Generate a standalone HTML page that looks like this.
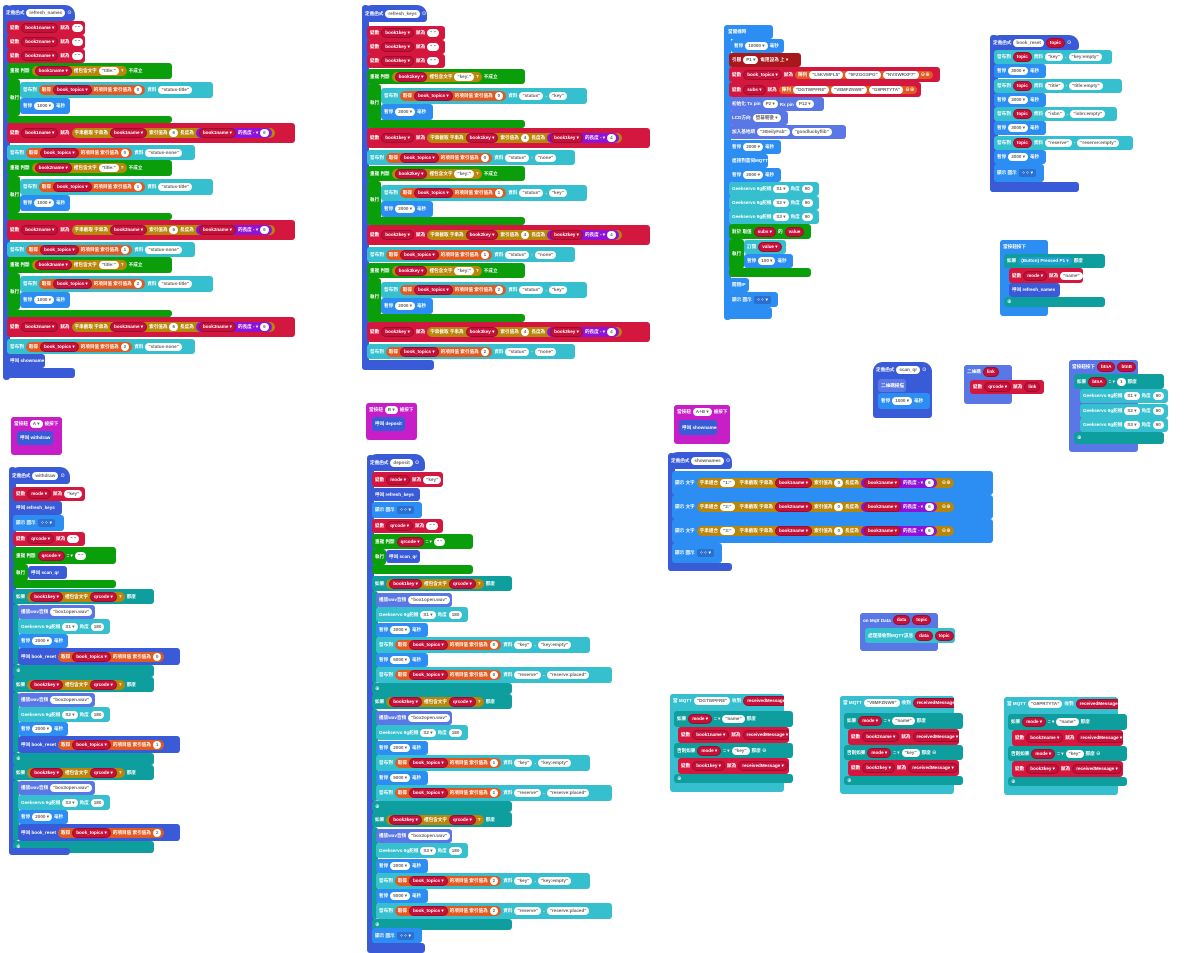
<!DOCTYPE html>
<html><head><meta charset="utf-8">
<style>
html,body{margin:0;padding:0;background:#fff;width:1200px;height:953px;overflow:hidden;position:relative}
.b{position:absolute;box-sizing:border-box;border-radius:3px;color:#fff;font:700 4.6px "Liberation Sans","Noto Sans CJK TC",sans-serif;display:flex;align-items:center;gap:2px;padding:0 3px;white-space:nowrap;overflow:hidden}
.b i{font-style:normal;display:inline-flex;align-items:center;gap:2px;border-radius:6px;padding:0 3px;line-height:8px;flex:none}
.w{background:#fff;color:#666}
.v{background:#c5103a;color:#fff;border:1px solid #9e0c2c}
.g{background:#b8860b;line-height:10px!important}
.p{background:#8f12d8}
.o{background:#e05a21}
.t{background:#1a9fd0}
.ic{background:#2b6fd0!important;border-radius:2px!important;padding:0 3px!important}
.hat{border-radius:10px 10px 3px 3px}
</style></head><body>
<script>
const C={fn:'#3a5bd8',red:'#d3173f',grn:'#0a9f0a',tl:'#36c0cf',dt:'#0e9e9e',org:'#e05a21',gld:'#b8860b',pur:'#8f12d8',blu:'#2c8df2',lav:'#5a77e6',mag:'#c81ec8',drd:'#a8171c'};
let H='';
function R(x,y,w,h,c,l,cls){H+=`<div class="b ${cls||''}" style="left:${x}px;top:${y}px;width:${w}px;height:${h}px;background:${c}">${l||''}</div>`;}
const w=t=>`<i class=w>${t}</i>`,v=t=>`<i class=v>${t} ▾</i>`,vr=t=>`<i class=v>${t}</i>`,g=t=>`<i class=g>${t}</i>`,p=t=>`<i class=p>${t}</i>`,o=t=>`<i class=o>${t}</i>`,ic=`<i class=ic>⁘⁘ ▾</i>`;
const pause=t=>'暫停 '+w(t+' ▾')+' 毫秒';
const sub=(n,k)=>`變數 ${v(n)} 賦為 ${g('字串截取 字串為 '+v(n)+' 索引值為 '+w(k)+' 長度為 '+p(v(n)+' 的長度 - ▾ '+w(k)))}`;

(function(){const X=7;R(3,5,7,375,C.fn);R(3,5,72,16,C.fn,'定義函式 '+w('refresh_names')+' ⊙','hat');
let y=21;for(let i=1;i<=3;i++){R(X,y,78,14,C.red,`變數 ${v('book'+i+'name')} 賦為 ${w('" "')}`);y+=14;}
for(let k=0;k<3;k++){const n='book'+(k+1)+'name';
R(X,y,165,16,C.grn,`重複 判斷 ${g(v(n)+' 裡包含文字 '+w('"title:"')+' ?')} 不成立`);
R(X,y+16,13,37,C.grn,'執行');R(X+13,y+19,193,16,C.tl,`發布到 ${o('取得 '+v('book_topics')+' 的項目值 索引值為 '+w(k))} 資料 ${w('"status-title"')}`);
R(X+13,y+35,50,16,C.blu,pause(1000));R(X,y+53,165,7,C.grn);y+=60;
R(X,y,288,20,C.red,sub(n,6));y+=22;R(X,y,188,15,C.tl,`發布到 ${o('取得 '+v('book_topics')+' 的項目值 索引值為 '+w(k))} 資料 ${w('"status-none"')}`);y+=15;}
R(X,y,38,14,C.fn,'呼叫 showname');y+=14;R(3,y,72,10,C.fn);})();

(function(){const X=367;R(362,5,7,365,C.fn);R(362,5,65,17,C.fn,'定義函式 '+w('refresh_keys')+' ⊙','hat');
let y=26;for(let i=1;i<=3;i++){R(X,y,78,14,C.red,`變數 ${v('book'+i+'key')} 賦為 ${w('" "')}`);y+=14;}
y=69;for(let k=0;k<3;k++){const n='book'+(k+1)+'key';
R(X,y,158,15,C.grn,`重複 判斷 ${g(v(n)+' 裡包含文字 '+w('"key:"')+' ?')} 不成立`);
R(X,y+15,14,38,C.grn,'執行');R(X+14,y+19,206,16,C.tl,`發布到 ${o('取得 '+v('book_topics')+' 的項目值 索引值為 '+w(k))} 資料 ${w('"status"')} - ${w('"key"')}`);
R(X+14,y+35,52,16,C.blu,pause(2000));R(X,y+51,158,8,C.grn);
R(X,y+59,283,20,C.red,sub(n,4));R(X,y+81,208,15,C.tl,`發布到 ${o('取得 '+v('book_topics')+' 的項目值 索引值為 '+w(k))} 資料 ${w('"status"')} - ${w('"none"')}`);y+=97;}
R(362,360,72,10,C.fn);})();

R(724,25,7,295,C.blu);R(725,25,48,14,C.blu,'當開機時');
R(731,39,53,14,C.blu,pause(10000));
R(729,53,72,14,C.drd,'引腳 '+w('P1 ▾')+' 電阻設為 上 ▾');
R(729,67,211,15,C.red,`變數 ${v('book_topics')} 賦為 ${o('陣列 '+w('"L5KVMFL5"')+w('"9FZGGSPG"')+w('"NVSWRXF7"')+' ⊖⊕')}`);
R(729,82,192,15,C.red,`變數 ${v('subs')} 賦為 ${o('陣列 '+w('"DGTWPFR8"')+w('"V8MFZNW9"')+w('"G9PRTYTA"')+' ⊖⊕')}`);
R(729,97,95,14,C.lav,'初始化 Tx pin '+w('P2 ▾')+' Rx pin '+w('P12 ▾'));
R(729,111,59,14,C.lav,'LCD方向 '+w('螢幕朝後 ▾'));
R(729,125,117,14,C.lav,'加入基地網 '+w('"30IeilyFab"')+' '+w('"goodluckyflib"'));
R(729,140,52,14,C.blu,pause(2000));
R(729,154,39,14,C.blu,'連接到雲伺MQTT');
R(729,168,52,14,C.blu,pause(2000));
for(let i=0;i<3;i++)R(729,182+i*14,90,14,C.tl,'Geekservo 9g舵機 '+w('S'+(i+1)+' ▾')+' 角度 '+w('90'));
R(729,224,82,15,C.grn,'對於 取值 '+v('subs')+' 的 '+vr('value'));R(729,239,15,30,C.grn,'執行');
R(744,240,42,14,C.tl,'訂閱 '+v('value'));R(744,254,49,14,C.blu,pause(100));R(729,268,82,9,C.grn);
R(729,278,20,14,C.blu,'關閉IP');R(729,292,49,15,C.blu,'顯示 圖示 '+ic);R(724,307,48,12,C.blu);

R(990,35,8,157,C.fn);R(990,35,89,15,C.fn,'定義函式 '+w('book_reset')+' '+vr('topic')+' ⊙','hat');
[['key','key:empty',118],['title','title:empty',128],['isbn','isbn:empty',123],['reserve','reserve:empty',139]].forEach((a,i)=>{const y=50+i*28.5;
R(994,y,a[2],14,C.tl,'發布到 '+vr('topic')+' 資料 '+w('"'+a[0]+'"')+' - '+w('"'+a[1]+'"'));R(994,y+14,52,14,C.blu,pause(3000));});
R(994,164,50,18,C.blu,'顯示 圖示 '+ic);R(990,182,89,10,C.fn);

R(1000,240,48,76,C.blu);R(1000,240,48,14,C.blu,'當按鈕按下');
R(1004,254,101,14,C.dt,'如果 <i class=t>(Button) Pressed P1 ▾</i> 那麼');
R(1009,268,74,15,C.red,'變數 '+v('mode')+' 賦為 '+w('"name"'));R(1009,283,51,14,C.fn,'呼叫 refresh_names');R(1004,297,101,10,C.dt,'⊕');

R(873,362,59,56,C.fn,'','hat');R(873,362,59,16,C.fn,'定義函式 '+w('scan_qr')+' ⊙','hat');
R(878,379,28,13,C.lav,'二維碼掃描');R(878,393,52,16,C.blu,pause(1000));
R(964,365,48,39,C.lav);R(964,365,48,14,C.lav,'二維碼 '+vr('link'));R(970,380,74,14,C.red,'變數 '+v('qrcode')+' 賦為 '+vr('link'));
R(1069,360,69,92,C.lav);R(1069,360,69,14,C.lav,'當按鈕按下 '+vr('btnA')+' '+vr('btnB'));
R(1074,374,90,15,C.dt,'如果 '+vr('btnA')+' = ▾ '+w('1')+' 那麼');
for(let i=0;i<3;i++)R(1080,389+i*14.5,88,14,C.tl,'Geekservo 9g舵機 '+w('S'+(i+1)+' ▾')+' 角度 '+w('90'));
R(1074,432,90,12,C.dt,'⊕');

R(11,417,51,38,C.mag);R(11,417,51,13,C.mag,'當按鈕 '+w('A ▾')+' 被按下');R(17,431,36,14,C.fn,'呼叫 withdraw');
R(9,467,7,388,C.fn);R(9,467,61,17,C.fn,'定義函式 '+w('withdraw')+' ⊙','hat');
R(13,487,72,14,C.red,'變數 '+v('mode')+' 賦為 '+w('"key"'));R(13,501,49,14,C.fn,'呼叫 refresh_keys');
R(13,515,51,16,C.blu,'顯示 圖示 '+ic);R(13,532,72,14,C.red,'變數 '+v('qrcode')+' 賦為 '+w('" "'));
R(13,547,103,17,C.grn,'重複 判斷 '+v('qrcode')+' = ▾ '+w('" "'));R(13,564,15,17,C.grn,'執行');R(28,566,39,13,C.fn,'呼叫 scan_qr');R(13,580,103,8,C.grn);
for(let k=0;k<3;k++){const y=589+k*88;
R(13,y,141,15,C.dt,'如果 '+g(v('book'+(k+1)+'key')+' 裡包含文字 '+v('qrcode')+' ?')+' 那麼');
R(13,y+15,6,61,C.dt);
R(18,y+16,77,14,C.lav,'播放wav音頻 '+w('"box'+(k+1)+'open.wav"'));
R(18,y+30,92,15,C.tl,'Geekservo 9g舵機 '+w('S'+(k+1)+' ▾')+' 角度 '+w('180'));
R(18,y+45,50,14,C.blu,pause(2000));
R(18,y+59,162,17,C.fn,'呼叫 book_reset '+o('取得 '+v('book_topics')+' 的項目值 索引值為 '+w(k)));
R(13,y+76,141,12,C.dt,'⊕');}
R(9,848,61,7,C.fn);

R(366,403,51,37,C.mag);R(366,403,51,14,C.mag,'當按鈕 '+w('B ▾')+' 被按下');R(372,417,33,14,C.fn,'呼叫 deposit');
R(367,455,7,495,C.fn);R(367,454,58,17,C.fn,'定義函式 '+w('deposit')+' ⊙','hat');
R(372,472,71,15,C.red,'變數 '+v('mode')+' 賦為 '+w('"key"'));R(372,488,48,13,C.fn,'呼叫 refresh_keys');
R(372,502,50,16,C.blu,'顯示 圖示 '+ic);R(372,519,71,14,C.red,'變數 '+v('qrcode')+' 賦為 '+w('" "'));
R(372,534,101,15,C.grn,'重複 判斷 '+v('qrcode')+' = ▾ '+w('" "'));R(372,549,14,16,C.grn,'執行');R(386,550,34,13,C.fn,'呼叫 scan_qr');R(372,565,101,9,C.grn);
for(let k=0;k<3;k++){const y=576+k*118;
R(372,y,140,15,C.dt,'如果 '+g(v('book'+(k+1)+'key')+' 裡包含文字 '+v('qrcode')+' ?')+' 那麼');
R(372,y+15,5,92,C.dt);
R(376,y+17,76,14,C.lav,'播放wav音頻 '+w('"box'+(k+1)+'open.wav"'));
R(376,y+31,92,15,C.tl,'Geekservo 9g舵機 '+w('S'+(k+1)+' ▾')+' 角度 '+w('180'));
R(376,y+47,52,14,C.blu,pause(2000));
R(376,y+61,214,16,C.tl,'發布到 '+o('取得 '+v('book_topics')+' 的項目值 索引值為 '+w(k))+' 資料 '+w('"key"')+' - '+w('"key:empty"'));
R(376,y+77,52,14,C.blu,pause(5000));
R(376,y+91,236,16,C.tl,'發布到 '+o('取得 '+v('book_topics')+' 的項目值 索引值為 '+w(k))+' 資料 '+w('"reserve"')+' - '+w('"reserve:placed"'));
R(372,y+107,140,11,C.dt,'⊕');}
R(372,928,50,15,C.blu,'顯示 圖示 '+ic);R(367,943,58,10,C.fn);

R(674,405,56,39,C.mag);R(674,405,56,13,C.mag,'當按鈕 '+w('A+B ▾')+' 被按下');R(679,420,38,15,C.fn,'呼叫 shownames');
R(668,453,7,118,C.fn);R(668,452,64,17,C.fn,'定義函式 '+w('shownames')+' ⊙','hat');
for(let i=0;i<3;i++){const n='book'+(i+1)+'name';R(672,471+i*24,321,24,C.blu,'顯示 文字 '+g('字串組合 '+w('"'+(i+1)+':"')+' '+g('字串截取 字串為 '+v(n)+' 索引值為 '+w('0')+' 長度為 '+p(v(n)+' 的長度 - ▾ '+w('6')))+' ⊖⊕'));}
R(672,543,50,20,C.blu,'顯示 圖示 '+ic);R(668,563,64,8,C.fn);

R(860,613,78,38,C.lav);R(860,613,78,14,C.lav,'on Mqtt Data '+vr('data')+' '+vr('topic'));R(865,628,90,15,C.tl,'處理接收到MQTT訊息 '+vr('data')+' '+vr('topic'));

[[670,694,'DGTWPFR8',1],[840,696,'V8MFZNW9',2],[1004,697,'G9PRTYTA',3]].forEach(a=>{const x=a[0],y=a[1],n=a[3];
R(x,y,114,98,C.tl);R(x,y,114,14,C.tl,'當 MQTT '+w('"'+a[2]+'"')+' 收到 '+vr('receivedMessage'));
R(x+4,y+17,119,16,C.dt,'如果 '+vr('mode ▾')+' = ▾ '+w('"name"')+' 那麼');
R(x+8,y+33,111,16,C.red,'變數 '+v('book'+n+'name')+' 賦為 '+v('receivedMessage'));
R(x+4,y+49,119,15,C.dt,'否則如果 '+vr('mode ▾')+' = ▾ '+w('"key"')+' 那麼 ⊖');
R(x+8,y+64,111,16,C.red,'變數 '+v('book'+n+'key')+' 賦為 '+v('receivedMessage'));
R(x+4,y+80,119,9,C.dt,'⊕');});

document.write(H);
</script>
</body></html>
